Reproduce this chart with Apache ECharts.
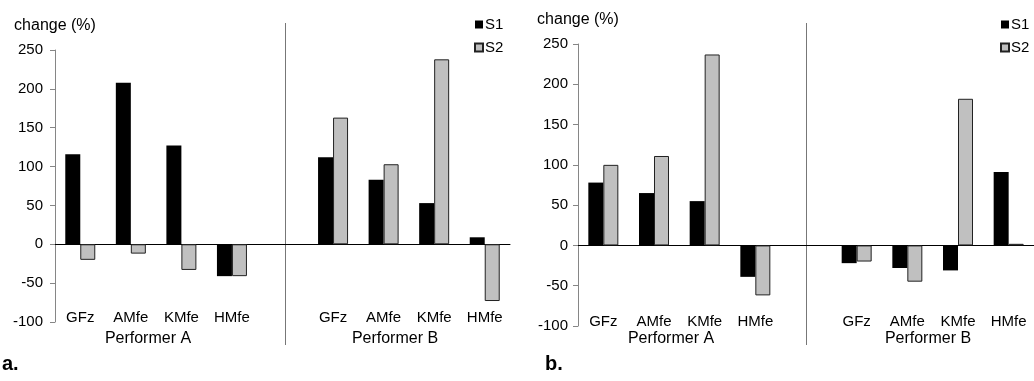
<!DOCTYPE html>
<html>
<head>
<meta charset="utf-8">
<script src="https://cdn.jsdelivr.net/npm/echarts@6/dist/echarts.min.js"></script>
<style>
    html, body { margin: 0; padding: 0; background: #fff; }
    #chart { width: 1034px; height: 381px; }
</style>
</head>
<body>
<div id="chart"></div>
<script>
// data
const cats = ['GFz', 'AMfe', 'KMfe', 'HMfe'];
const groups = ['Performer A', 'Performer B'];
const seriesNames = ['S1', 'S2'];

// panel a (Performer A x4, Performer B x4)
const aS1 = [116, 208, 127, -41, 112, 83, 53, 9];
const aS2 = [-20, -12, -33, -41, 163, 103, 238, -73];
// panel b
const bS1 = [78, 65, 55, -39, -22, -28, -31, 91];
const bS2 = [100, 111, 237, -62, -20, -45, 182, 2];

const FONT = 'Liberation Sans, Arial, sans-serif';

// category keys with an empty slot between the two performers
const keys = [];
groups.forEach((g, gi) => {
    cats.forEach(c => keys.push(g + '|' + c));
    if (gi === 0) keys.push('gap|');
});
const withGap = arr => arr.slice(0, 4).concat(['-'], arr.slice(4));

const grids = [
    { left: 55, top: 50, width: 455, height: 272 },
    { left: 578, top: 44, width: 459, height: 282 }
];

let xAxis = [];
let yAxis = [];
grids.forEach((g, i) => {
    // zero line
    xAxis.push({
        gridIndex: i,
        type: 'category',
        data: keys,
        axisLine: { onZero: true, lineStyle: { color: '#000', width: 1 } },
        axisTick: { show: false },
        axisLabel: { show: false }
    });
    // labels along the bottom
    xAxis.push({
        gridIndex: i,
        type: 'category',
        position: 'bottom',
        data: keys,
        axisLine: { show: false, onZero: false },
        axisTick: { show: false },
        axisLabel: {
            margin: -12,
            fontSize: 15,
            fontFamily: FONT,
            color: '#000',
            interval: 0,
            formatter: v => v.split('|')[1]
        }
    });
    yAxis.push({
        gridIndex: i,
        type: 'value',
        min: -100,
        max: 250,
        interval: 50,
        name: 'change (%)',
        nameLocation: 'end',
        nameGap: 16,
        nameTextStyle: { fontSize: 16, fontFamily: FONT, color: '#000' },
        axisLine: { show: true, lineStyle: { color: '#868686' } },
        axisTick: { show: true, length: 5, lineStyle: { color: '#868686' } },
        axisLabel: { fontSize: 15, fontFamily: FONT, color: '#000', margin: i === 0 ? 12 : 10 },
        splitLine: { show: false }
    });
});

const panelData = [[aS1, aS2], [bS1, bS2]];
let series = [];
panelData.forEach((pair, i) => {
    pair.forEach((vals, si) => {
        series.push({
            name: seriesNames[si],
            type: 'bar',
            xAxisIndex: i * 2,
            yAxisIndex: i,
            barWidth: 15,
            barGap: '0%',
            itemStyle: si === 0
                ? { color: '#000', borderColor: '#000', borderWidth: 0 }
                : { color: '#c0c0c0', borderColor: '#222', borderWidth: 1 },
            data: withGap(vals)
        });
    });
});

const legendBase = {
    orient: 'vertical',
    top: 12,
    itemWidth: 8,
    itemHeight: 8,
    itemGap: 8,
    icon: 'rect',
    textStyle: { fontSize: 15, fontFamily: FONT, color: '#000', padding: [0, 0, 0, -3] },
    data: seriesNames
};

let option = {
    animation: false,
    title: [
        { text: 'a.', left: 2, top: 354, padding: 0, textStyle: { fontSize: 20, fontWeight: 'bold', fontFamily: FONT, color: '#000' } },
        { text: 'b.', left: 545, top: 354, padding: 0, textStyle: { fontSize: 20, fontWeight: 'bold', fontFamily: FONT, color: '#000' } }
    ],
    legend: [
        Object.assign({}, legendBase, { left: 469 }),
        Object.assign({}, legendBase, { left: 995 })
    ],
    grid: grids,
    xAxis: xAxis,
    yAxis: yAxis,
    series: series,
    graphic: [
        { type: 'line', shape: { x1: 285.5, y1: 23, x2: 285.5, y2: 345 }, style: { stroke: '#777', lineWidth: 1 } },
        { type: 'line', shape: { x1: 806.5, y1: 23, x2: 806.5, y2: 345 }, style: { stroke: '#777', lineWidth: 1 } },
        { type: 'text', x: 148, y: 339, style: { text: groups[0], fontSize: 16, fontFamily: FONT, fill: '#000', align: 'center', verticalAlign: 'middle' } },
        { type: 'text', x: 395, y: 339, style: { text: groups[1], fontSize: 16, fontFamily: FONT, fill: '#000', align: 'center', verticalAlign: 'middle' } },
        { type: 'text', x: 671, y: 339, style: { text: groups[0], fontSize: 16, fontFamily: FONT, fill: '#000', align: 'center', verticalAlign: 'middle' } },
        { type: 'text', x: 928, y: 339, style: { text: groups[1], fontSize: 16, fontFamily: FONT, fill: '#000', align: 'center', verticalAlign: 'middle' } }
    ]
};

const chart = echarts.init(document.getElementById('chart'));
chart.setOption(option);
</script>
</body>
</html>
